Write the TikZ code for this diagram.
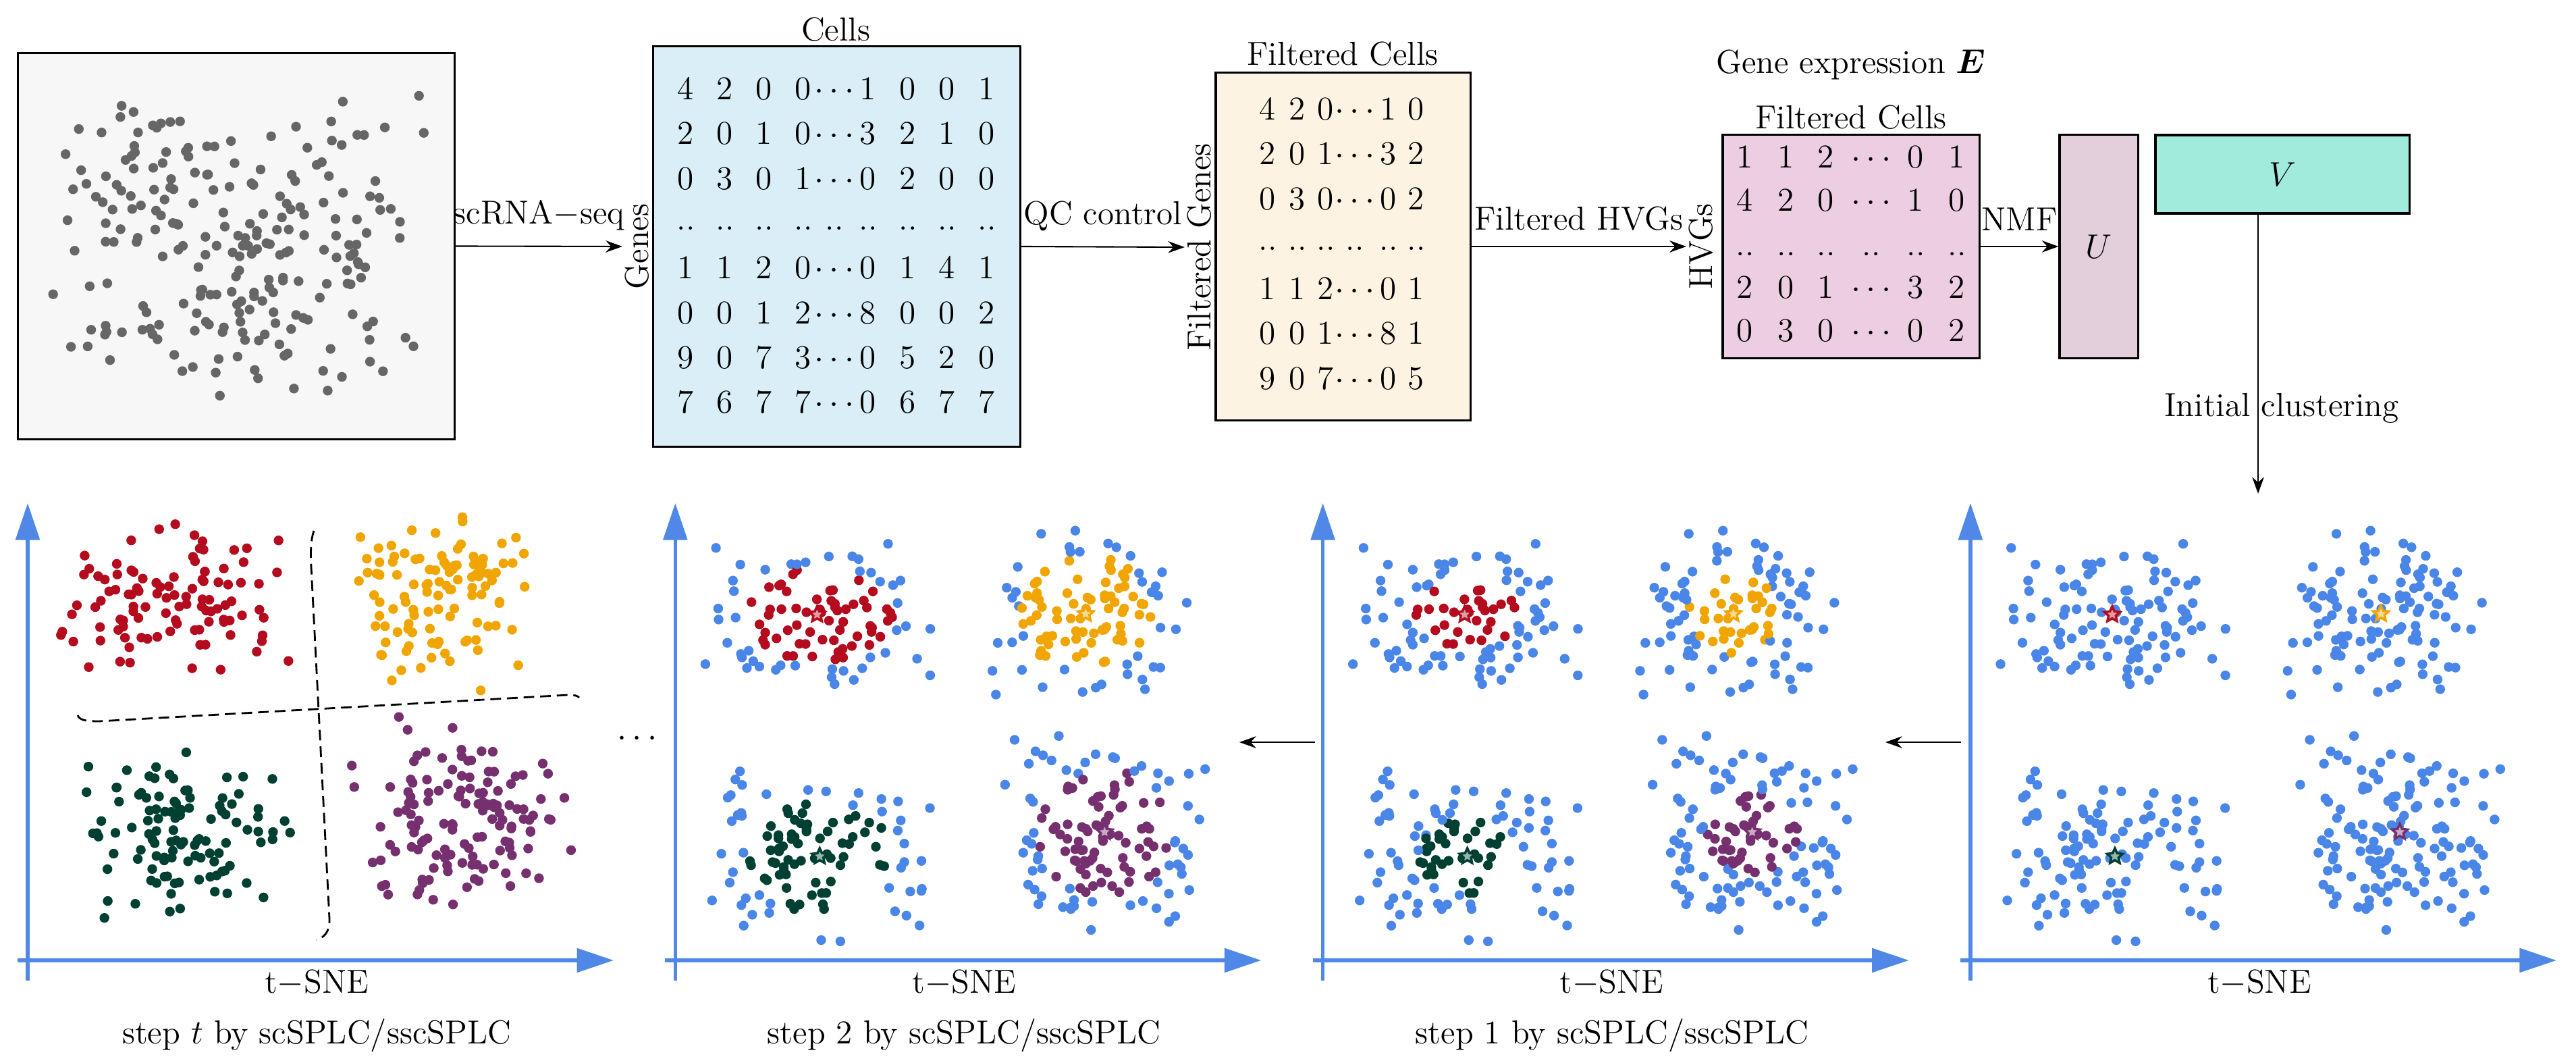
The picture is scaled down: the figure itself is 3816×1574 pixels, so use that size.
\documentclass[tikz,border=0pt]{standalone}
\usepackage{bm}
\usetikzlibrary{arrows.meta,shapes.geometric}
\definecolor{rawfill}{HTML}{F7F7F7}
\definecolor{cellfill}{HTML}{D9EEF6}
\definecolor{filtfill}{HTML}{FDF3E3}
\definecolor{hvgfill}{HTML}{ECCDE2}
\definecolor{ufill}{HTML}{E3CFDB}
\definecolor{vfill}{HTML}{A0EBDB}
\definecolor{dotgray}{HTML}{666666}
\definecolor{dotblue}{HTML}{4A86E8}
\definecolor{axblue}{HTML}{4F88E6}
\definecolor{cred}{HTML}{B50B1E}
\definecolor{corange}{HTML}{F0A500}
\definecolor{cgreen}{HTML}{004033}
\definecolor{cpurple}{HTML}{76306F}
% #1 seed, #2 axis x, #3 rel cx, #4 cy, #5 a, #6 b, #7 N, #8 colour, #9 threshold
\newcommand{\drawclust}[9]{%
  \pgfmathsetseed{#1}%
  \foreach \i in {1,...,#7}{%
    \pgfmathsetmacro{\uu}{0.65*rand+0.35*rand}%
    \pgfmathsetmacro{\vv}{0.65*rand+0.35*rand}%
    \pgfmathtruncatemacro{\ins}{((\uu)*(\uu)+(\vv)*(\vv)<(#9)*(#9))}%
    \ifnum\ins=1 \def\cc{#8}\else\def\cc{dotblue}\fi
    \fill[\cc] ({#2+#3+#5*\uu},{#4+#6*\vv}) circle[radius=0.072cm];
  }%
}
\begin{document}
\begin{tikzpicture}[x=0.01cm,y=-0.01cm,font=\fontsize{14}{17}\selectfont,
  box/.style={draw,line width=0.9pt,inner sep=0pt},
  conn/.style={draw,line width=0.6pt,-{Stealth[length=7pt,width=5pt]}},
  axisline/.style={draw=axblue,line width=1.5pt,-{Triangle[length=15.5pt,width=10pt]}},
  ent/.style={anchor=base,inner sep=0pt},
  lab/.style={above=4pt,inner sep=2.5pt},
  rlab/.style={rotate=90,inner sep=1pt},
  sepline/.style={line width=0.8pt,dash pattern=on 4.5pt off 2.5pt},
  ctr/.style={star,star points=5,star point ratio=2.1,minimum size=0.24cm,inner sep=0pt,line width=1pt}]
\useasboundingbox (0,0) rectangle (3816,1574);

% ---------- top row ----------
\node[box,fill=rawfill,minimum width=6.46cm,minimum height=5.71cm] (raw) at (350,364.5) {};
\pgfmathsetseed{5}
\foreach \i in {1,...,230}{%
  \fill[dotgray] ({349+282*(0.8*rand+0.2*rand)},{365+232*(0.8*rand+0.2*rand)}) circle[radius=0.072cm];
}

\node[box,fill=cellfill,minimum width=5.43cm,minimum height=5.92cm] (cells) at (1239.5,365) {};
\node (cellsT) at (1238,44) {Cells};
\node[rlab] (genesL) at (944,365) {Genes};

\node[box,fill=filtfill,minimum width=3.77cm,minimum height=5.14cm] (filt) at (1989.5,365) {};
\node (filtT) at (1989,80) {Filtered Cells};
\node[rlab] (fgenesL) at (1777,366) {Filtered Genes};

\node[box,fill=hvgfill,minimum width=3.80cm,minimum height=3.30cm] (hvg) at (2742,365) {};
\node (geneT) at (2742,96) {Gene expression $\bm{E}$};
\node (hvgT) at (2742,174) {Filtered Cells};
\node[rlab] (hvgsL) at (2520,365) {HVGs};

\node[box,fill=ufill,minimum width=1.16cm,minimum height=3.30cm] (U) at (3109,365) {$U$};
\node[box,fill=vfill,minimum width=3.76cm,minimum height=1.16cm] (V) at (3381,258) {$V$};

% matrix entries: cells
\foreach \r/\y in {1/148,2/214,3/281,5/413,6/480,7/546,8/612}{%
  \ifcase\r\or
    \def\row{4,2,0,0,$\cdots$,1,0,0,1}\or
    \def\row{2,0,1,0,$\cdots$,3,2,1,0}\or
    \def\row{0,3,0,1,$\cdots$,0,2,0,0}\or\or
    \def\row{1,1,2,0,$\cdots$,0,1,4,1}\or
    \def\row{0,0,1,2,$\cdots$,8,0,0,2}\or
    \def\row{9,0,7,3,$\cdots$,0,5,2,0}\or
    \def\row{7,6,7,7,$\cdots$,0,6,7,7}\fi
  \foreach \e [count=\c] in \row{%
    \pgfmathsetmacro{\xx}{{1016,1074,1132,1190,1236,1286,1345,1403,1462}[\c-1]}%
    \node[ent] (m1-\r-\c) at (\xx,\y) {\e};
  }
}
\foreach \xx [count=\c] in {1016,1074,1132,1190,1236,1286,1345,1403,1462}{%
  \node[ent] (m1-4-\c) at (\xx,341) {..};
}
% filtered
\foreach \r/\y in {1/178,2/244,3/311,5/444,6/510,7/577}{%
  \ifcase\r\or
    \def\row{4,2,0,$\cdots$,1,0}\or
    \def\row{2,0,1,$\cdots$,3,2}\or
    \def\row{0,3,0,$\cdots$,0,2}\or\or
    \def\row{1,1,2,$\cdots$,0,1}\or
    \def\row{0,0,1,$\cdots$,8,1}\or
    \def\row{9,0,7,$\cdots$,0,5}\fi
  \foreach \e [count=\c] in \row{%
    \pgfmathsetmacro{\xx}{{1878,1922,1964,2007,2057,2098}[\c-1]}%
    \node[ent] (m2-\r-\c) at (\xx,\y) {\e};
  }
}
\foreach \xx [count=\c] in {1878,1922,1964,2007,2057,2098}{%
  \node[ent] (m2-4-\c) at (\xx,371) {..};
}
% HVG matrix
\foreach \r/\y in {1/249,2/313,4/442,5/506}{%
  \ifcase\r\or
    \def\row{1,1,2,$\cdots$,0,1}\or
    \def\row{4,2,0,$\cdots$,1,0}\or\or
    \def\row{2,0,1,$\cdots$,3,2}\or
    \def\row{0,3,0,$\cdots$,0,2}\fi
  \foreach \e [count=\c] in \row{%
    \pgfmathsetmacro{\xx}{{2585,2646,2705,2772,2838,2899}[\c-1]}%
    \node[ent] (m3-\r-\c) at (\xx,\y) {\e};
  }
}
\foreach \xx [count=\c] in {2585,2646,2705,2772,2838,2899}{%
  \node[ent] (m3-3-\c) at (\xx,379) {..};
}

% connectors of top row
\draw[conn] (raw.east) -- node[lab] (l1) {scRNA$-$seq} (genesL.north);
\draw[conn] (cells.east) -- node[lab] (l2) {QC control} (fgenesL.north);
\draw[conn] (filt.east) -- node[lab] (l3) {Filtered HVGs} (hvgsL.north);
\draw[conn] (hvg.east) -- node[lab] (l4) {NMF} (U.west);
\coordinate (icEnd) at (3345,731);
\draw[conn] (V.south -| icEnd) -- (icEnd);
\node (icL) at (3380,604) {Initial clustering};

% ---------- bottom row: axes ----------
\foreach \k in {0,1,2,3}{%
  \pgfmathsetmacro{\X}{41+959.3*\k}
  \draw[axisline] (\X,1452) -- (\X,745);
  \draw[axisline] (\X-15,1422) -- (\X+868,1422);
  \node (tsne\k) at (\X+428,1455) {t$-$SNE};
}
\node (step0) at (469,1533) {step $t$ by scSPLC/sscSPLC};
\node (step1) at (1428,1533) {step 2 by scSPLC/sscSPLC};
\node (step2) at (2388,1533) {step 1 by scSPLC/sscSPLC};

% step t (all clusters coloured)
\drawclust{21}{41}{214}{887}{178}{118}{105}{cred}{5}
\drawclust{22}{41}{612}{891}{156}{136}{110}{corange}{5}
\drawclust{23}{41}{230}{1240}{170}{134}{110}{cgreen}{5}
\drawclust{24}{41}{645}{1204}{172}{150}{135}{cpurple}{5}
\draw[sepline] (465,786) .. controls (460,800) and (460,820) .. (461,840)
  -- (488,1360) .. controls (489,1380) and (480,1388) .. (469,1392);
\draw[sepline] (115,1059) .. controls (118,1066) and (125,1068) .. (147,1068)
  -- (842,1029) .. controls (850,1029) and (856,1030) .. (858,1033);
\node (etc) at (944,1094) {$\cdots$};

% steps 2, 1 and initial
\foreach \k/\thr in {1/0.62,2/0.42,3/0}{%
  \pgfmathsetmacro{\X}{41+959.3*\k}
  \drawclust{11}{\X}{210}{910}{185}{122}{105}{cred}{\thr}
  \drawclust{12}{\X}{608}{909}{160}{140}{110}{corange}{\thr}
  \drawclust{13}{\X}{214}{1268}{172}{136}{110}{cgreen}{\thr}
  \drawclust{14}{\X}{636}{1232}{168}{150}{135}{cpurple}{\thr}
  \node[ctr,draw=cred,fill=cred!40!white] (s\k-1) at (\X+210,910) {};
  \node[ctr,draw=corange,fill=corange!40!white] (s\k-2) at (\X+608,909) {};
  \node[ctr,draw=cgreen,fill=cgreen!40!white] (s\k-3) at (\X+214,1268) {};
  \node[ctr,draw=cpurple,fill=cpurple!40!white] (s\k-4) at (\X+636,1232) {};
}

% arrows between panels
\coordinate (p3tail) at (1948,1099);
\coordinate (p2tip) at (1836,1099);
\coordinate (p4tail) at (2905,1099);
\coordinate (p3tip) at (2793,1099);
\draw[conn] (p3tail) -- (p2tip);
\draw[conn] (p4tail) -- (p3tip);
\end{tikzpicture}
\end{document}
